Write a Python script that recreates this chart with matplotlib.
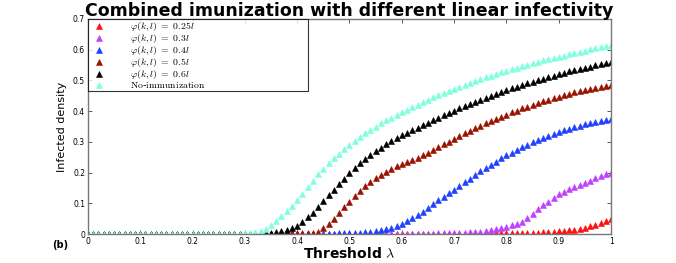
import numpy as np
import matplotlib
matplotlib.use("Agg")
import matplotlib.pyplot as plt

plt.rcParams['mathtext.fontset'] = 'cm'

x_vals = [round(i * 0.01, 2) for i in range(101)]

cyan_noimm = [0.0] * 30 + [
    0.002, 0.004, 0.007, 0.010, 0.018, 0.028, 0.042, 0.060, 0.076, 0.092,
    0.110, 0.130, 0.152, 0.174, 0.195, 0.213, 0.230, 0.246, 0.262, 0.276,
    0.290, 0.303, 0.316, 0.328, 0.339, 0.350, 0.360, 0.370, 0.379, 0.388,
    0.397, 0.405, 0.413, 0.421, 0.429, 0.437, 0.445, 0.452, 0.459, 0.466,
    0.473, 0.480, 0.486, 0.492, 0.498, 0.504, 0.510, 0.515, 0.521, 0.526,
    0.531, 0.536, 0.541, 0.546, 0.551, 0.556, 0.560, 0.565, 0.569, 0.573,
    0.577, 0.581, 0.585, 0.589, 0.593, 0.597, 0.601, 0.604, 0.608, 0.612,
    0.616]

black_06 = [0.0] * 30 + [
    0.000, 0.001, 0.001, 0.002, 0.003, 0.005, 0.007, 0.010, 0.014, 0.019,
    0.026, 0.039, 0.054, 0.070, 0.088, 0.107, 0.126, 0.145, 0.163, 0.180,
    0.200, 0.216, 0.231, 0.245, 0.258, 0.270, 0.281, 0.292, 0.302, 0.312,
    0.321, 0.330, 0.338, 0.346, 0.354, 0.362, 0.370, 0.378, 0.386, 0.394,
    0.402, 0.410, 0.417, 0.424, 0.431, 0.437, 0.444, 0.450, 0.456, 0.462,
    0.468, 0.474, 0.479, 0.485, 0.490, 0.495, 0.500, 0.505, 0.510, 0.515,
    0.520, 0.524, 0.529, 0.533, 0.537, 0.541, 0.545, 0.549, 0.553, 0.557,
    0.561]

darkred_05 = [0.0] * 36 + [
    0.001, 0.001, 0.002, 0.002,
    0.003, 0.003, 0.004, 0.005, 0.008, 0.020, 0.034, 0.050, 0.067, 0.087,
    0.105, 0.123, 0.140, 0.156, 0.170, 0.182, 0.193, 0.203, 0.212, 0.220,
    0.228, 0.235, 0.242, 0.249, 0.257, 0.265, 0.274, 0.283, 0.292, 0.301,
    0.310, 0.319, 0.328, 0.336, 0.344, 0.352, 0.360, 0.367, 0.375, 0.382,
    0.389, 0.396, 0.402, 0.409, 0.415, 0.421, 0.426, 0.432, 0.437, 0.442,
    0.447, 0.452, 0.456, 0.461, 0.465, 0.469, 0.472, 0.476, 0.479, 0.482,
    0.485]

blue_04 = [0.0] * 46 + [
    0.001, 0.001, 0.002, 0.002,
    0.003, 0.004, 0.005, 0.006, 0.008, 0.010, 0.013, 0.017, 0.021, 0.026,
    0.033, 0.042, 0.052, 0.062, 0.073, 0.085, 0.098, 0.110, 0.122, 0.133,
    0.144, 0.156, 0.168, 0.180, 0.192, 0.204, 0.215, 0.226, 0.236, 0.246,
    0.256, 0.265, 0.274, 0.283, 0.291, 0.299, 0.306, 0.313, 0.320, 0.326,
    0.332, 0.338, 0.343, 0.348, 0.353, 0.357, 0.361, 0.364, 0.367, 0.370,
    0.373]

purple_03 = [0.0] * 65 + [
    0.001, 0.001, 0.002, 0.002, 0.003,
    0.003, 0.004, 0.005, 0.006, 0.007, 0.008, 0.010, 0.012, 0.015, 0.019,
    0.023, 0.028, 0.034, 0.040, 0.052, 0.066, 0.080, 0.094, 0.105, 0.118,
    0.130, 0.138, 0.146, 0.153, 0.160, 0.167, 0.174, 0.181, 0.188, 0.194,
    0.198]

red_025 = [0.0] * 75 + [
    0.001, 0.001, 0.001, 0.002, 0.002,
    0.002, 0.002, 0.003, 0.003, 0.004, 0.005, 0.005, 0.006, 0.007, 0.008,
    0.009, 0.010, 0.012, 0.014, 0.017, 0.021, 0.026, 0.031, 0.037, 0.043,
    0.048]

series = [
    (red_025, '#ff1010', r'$\varphi(k,l)\ =\ 0.25l$'),
    (purple_03, '#c040ff', r'$\varphi(k,l)\ =\ 0.3l$'),
    (blue_04, '#2040ff', r'$\varphi(k,l)\ =\ 0.4l$'),
    (darkred_05, '#9a1200', r'$\varphi(k,l)\ =\ 0.5l$'),
    (black_06, '#000000', r'$\varphi(k,l)\ =\ 0.6l$'),
    (cyan_noimm, '#80ffdf', r'$\mathrm{No}$-$\mathrm{immunization}$'),
]

x_ticks = [0, 0.1, 0.2, 0.3, 0.4, 0.5, 0.6, 0.7, 0.8, 0.9, 1]
x_ticklabels = ['0', '0.1', '0.2', '0.3', '0.4', '0.5', '0.6', '0.7', '0.8', '0.9', '1']
y_ticks = [0, 0.1, 0.2, 0.3, 0.4, 0.5, 0.6, 0.7]
y_ticklabels = ['0', '0.1', '0.2', '0.3', '0.4', '0.5', '0.6', '0.7']

fig = plt.figure(figsize=(6.76, 2.63), dpi=100)
ax = fig.add_axes([0.130, 0.110, 0.774, 0.818])

for vals, col, lab in series:
    ax.plot(x_vals, vals, linestyle='none', marker='^', markersize=4.2,
            color=col, markeredgecolor=col, markeredgewidth=0.4, label=lab)

ax.set_xlim(0, 1)
ax.set_ylim(0, 0.7)
ax.set_xticks(x_ticks)
ax.set_xticklabels(x_ticklabels)
ax.set_yticks(y_ticks)
ax.set_yticklabels(y_ticklabels)
ax.tick_params(direction='in', length=3, width=0.6, labelsize=5.5,
               top=True, right=True, colors='#444444', labelcolor='black', pad=2)
for sp in ax.spines.values():
    sp.set_color('#777777')
    sp.set_linewidth(1.0)

ax.set_title('Combined imunization with different linear infectivity',
             fontsize=12.5, fontweight='bold', pad=2)
ax.set_xlabel(r'Threshold $\lambda$', fontsize=10, fontweight='bold', labelpad=0)
ax.set_ylabel('Infected density', fontsize=8, fontfamily='Liberation Sans Narrow',
              labelpad=4)
fig.text(0.077, 0.057, '(b)', fontsize=7, fontweight='bold')

leg = ax.legend(loc='upper left', bbox_to_anchor=(0, 0, 0.421, 1.0), mode='expand',
                fontsize=7, frameon=True, fancybox=False,
                borderpad=0.1, labelspacing=-0.1, handletextpad=2.2,
                handlelength=2.0, borderaxespad=0, markerscale=1.0)
leg.get_frame().set_edgecolor('black')
leg.get_frame().set_linewidth(0.8)

fig.savefig('out.png', dpi=100)
